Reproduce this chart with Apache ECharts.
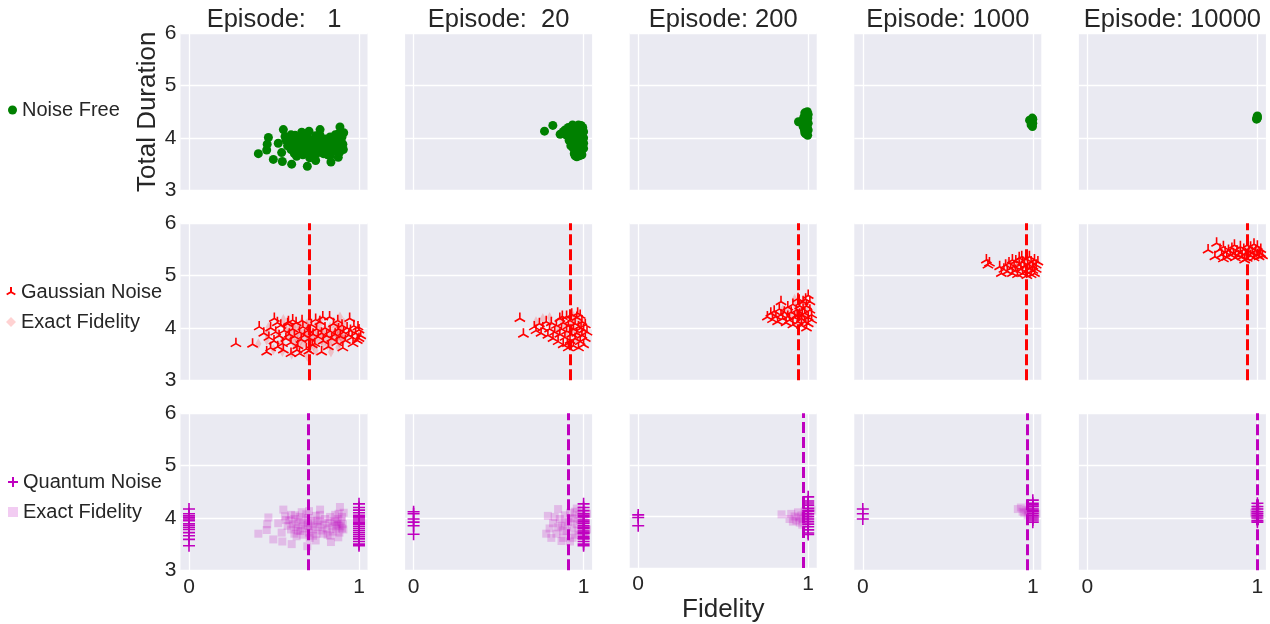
<!DOCTYPE html>
<html><head><meta charset="utf-8">
<script src="https://cdn.jsdelivr.net/npm/echarts@6/dist/echarts.min.js"></script>
<style>html,body{margin:0;padding:0;background:#fff}#c{width:1270px;height:624px}</style>
</head><body><div id="c"></div>
<script>
// ---------------- data ----------------
const episodes = ['Episode:   1', 'Episode:  20', 'Episode: 200', 'Episode: 1000', 'Episode: 10000'];
const yTicks = [3, 4, 5, 6];
const xTicks = [0, 1];

// Row 1: Noise Free [fidelity, total duration]
const noiseFree1 = [[0.408,3.70],[0.457,3.77],[0.46,3.88],[0.467,4.01],[0.496,3.59],[0.549,3.55],[0.555,4.16],[0.604,3.50],[0.696,3.46],[0.706,4.13],[0.771,4.16],[0.835,3.54],[0.878,3.63],[0.888,4.21],[0.908,3.78],[0.745,3.57],[0.525,3.90],[0.545,3.72],[0.565,4.03],[0.624,4.05],[0.663,4.11],[0.633,3.65],
[0.58,3.85],[0.59,3.95],[0.60,3.78],[0.61,3.88],[0.62,3.98],[0.63,3.82],[0.64,3.92],[0.65,4.02],[0.655,3.75],[0.66,3.86],[0.67,3.96],[0.68,3.80],[0.69,3.90],[0.70,4.00],[0.705,3.72],[0.71,3.84],[0.72,3.94],[0.73,3.78],[0.74,3.88],[0.745,4.04],[0.75,3.70],[0.76,3.83],[0.77,3.93],[0.78,3.76],[0.79,3.87],[0.80,3.98],[0.81,3.80],[0.815,3.68],[0.82,3.90],[0.83,4.02],[0.84,3.84],[0.845,3.74],[0.85,3.94],[0.86,4.06],[0.865,3.79],[0.87,3.88],[0.875,3.98],[0.88,4.08],[0.885,3.72],[0.89,3.84],[0.895,3.94],[0.90,4.02],[0.905,3.88],[0.91,4.10],[0.90,3.80],[0.62,3.70],[0.67,3.68],[0.73,3.66],[0.77,4.06],[0.69,4.07],[0.57,3.96],[0.60,4.06],[0.71,3.62],[0.79,3.70],[0.83,3.66],[0.86,3.92],[0.88,3.86],[0.64,3.76],[0.755,3.95],[0.70,3.85]];
const noiseFree2 = [[0.77,4.13],[0.819,4.24],[0.862,4.07],[0.88,4.12],[0.89,4.15],[0.90,4.05],[0.91,4.20],[0.92,4.10],[0.92,3.98],[0.93,4.18],[0.93,3.90],[0.94,4.06],[0.94,3.80],[0.945,3.70],[0.95,4.22],[0.95,4.00],[0.955,3.86],[0.96,4.12],[0.96,3.94],[0.965,3.75],[0.97,4.25],[0.97,4.04],[0.975,3.84],[0.98,4.16],[0.98,3.96],[0.985,3.72],[0.99,4.08],[0.99,3.90],[0.995,4.20],[1.0,4.00],[1.0,3.80],[0.99,3.68],[0.975,3.66],[0.96,3.64],[0.95,3.66],[0.935,4.25],[0.925,3.85],[0.915,3.95],[0.905,4.12],[0.985,4.24],[1.0,4.12],[0.97,3.92],[0.955,4.14],[0.945,3.98],[0.965,4.18],[0.98,3.78],[0.99,3.98],[1.0,3.90],[0.96,4.02]];
const noiseFree3 = [[0.943,4.31],[0.965,4.30],[0.97,4.22],[0.975,4.40],[0.978,4.15],[0.98,4.48],[0.982,4.32],[0.985,4.08],[0.988,4.25],[0.99,4.42],[0.99,4.12],[0.992,4.35],[0.995,4.20],[0.995,4.50],[0.997,4.05],[1.0,4.28],[1.0,4.45],[1.0,4.15],[0.985,4.38],[0.975,4.28],[0.97,4.35],[0.99,4.18],[0.998,4.38],[0.98,4.10],[0.993,4.45]];
const noiseFree4 = [[0.981,4.34],[0.99,4.25],[0.995,4.30],[0.997,4.38],[1.0,4.28],[1.0,4.36],[0.998,4.22],[0.993,4.33]];
const noiseFree5 = [[0.995,4.36],[1.0,4.38],[0.998,4.40],[1.0,4.42],[0.997,4.37]];

// Row 2: Gaussian noise estimate, exact fidelity, mean lines
const gauss1 = [[0.276,3.70],[0.374,3.69],[0.413,4.02],[0.457,3.54],[0.502,4.18],[0.522,3.64],[0.60,3.51],[0.61,4.15],[0.65,3.51],[0.787,4.21],[0.78,3.54],[0.827,4.21],[0.945,4.18],[0.994,4.02],[1.0,3.80],
[0.44,3.90],[0.47,3.82],[0.48,4.00],[0.50,3.75],[0.51,3.92],[0.53,3.85],[0.54,4.05],[0.55,3.70],[0.56,3.95],[0.57,3.80],[0.58,4.08],[0.59,3.88],[0.60,3.72],[0.61,3.98],[0.62,3.84],[0.63,4.10],[0.64,3.66],[0.65,3.92],[0.66,3.78],[0.67,4.02],[0.68,3.86],[0.69,3.60],[0.70,3.95],[0.71,3.80],[0.72,4.06],[0.73,3.88],[0.74,3.70],[0.75,3.98],[0.76,3.83],[0.77,4.12],[0.78,3.90],[0.79,3.75],[0.80,4.00],[0.81,3.85],[0.82,3.64],[0.83,3.94],[0.84,3.80],[0.85,4.08],[0.86,3.88],[0.87,3.72],[0.88,3.98],[0.89,3.84],[0.90,4.05],[0.91,3.92],[0.92,3.76],[0.93,4.00],[0.94,3.86],[0.95,3.95],[0.96,3.82],[0.97,4.04],[0.98,3.90],[0.99,3.76],[1.0,3.96],[1.01,3.85],[0.555,3.58],[0.635,3.58],[0.705,3.56],[0.725,3.68],[0.585,4.12],[0.665,4.14],[0.745,4.16],[0.875,4.14],[0.905,3.62],[0.965,3.70],[0.52,4.10],[0.48,3.62]];
const gauss2 = [[0.625,4.18],[0.646,3.88],[0.71,4.02],[0.72,3.95],[0.74,4.08],[0.75,3.90],[0.76,4.00],[0.78,4.12],[0.79,3.86],[0.80,3.98],[0.81,4.10],[0.82,3.80],[0.83,3.92],[0.84,4.05],[0.85,3.74],[0.86,4.18],[0.86,3.88],[0.87,3.98],[0.88,3.68],[0.88,4.10],[0.89,3.82],[0.90,4.22],[0.90,3.94],[0.91,3.62],[0.91,4.04],[0.92,3.76],[0.92,4.14],[0.93,3.88],[0.93,4.26],[0.94,3.98],[0.94,3.66],[0.95,4.08],[0.95,3.80],[0.96,4.20],[0.96,3.90],[0.97,3.62],[0.97,4.02],[0.98,4.24],[0.98,3.74],[0.99,3.86],[0.99,4.12],[1.0,3.96],[1.0,3.68],[1.01,4.06],[1.01,3.80],[1.02,3.92],[0.965,4.28],[0.905,3.70],[0.875,4.22],[0.985,4.00]];
const gauss3 = [[0.76,4.21],[0.78,4.28],[0.79,4.16],[0.80,4.32],[0.81,4.22],[0.82,4.12],[0.83,4.36],[0.84,4.50],[0.84,4.25],[0.85,4.18],[0.86,4.30],[0.87,4.10],[0.88,4.40],[0.88,4.22],[0.89,4.15],[0.90,4.30],[0.91,4.06],[0.91,4.45],[0.92,4.20],[0.93,4.34],[0.94,4.56],[0.94,4.12],[0.95,4.26],[0.95,4.42],[0.96,4.05],[0.96,4.18],[0.97,4.36],[0.97,4.50],[0.98,4.12],[0.98,4.28],[0.99,4.00],[0.99,4.42],[1.0,4.62],[1.0,4.20],[1.0,4.08],[1.01,4.34],[1.01,4.50],[1.02,4.25],[1.02,4.15],[0.985,4.55],[0.965,4.25],[0.935,4.25]];
const gauss4 = [[0.727,5.30],[0.736,5.20],[0.745,5.24],[0.805,5.17],[0.815,5.04],[0.83,5.12],[0.84,5.20],[0.85,5.08],[0.86,5.24],[0.87,5.14],[0.88,5.30],[0.88,5.04],[0.89,5.18],[0.90,5.10],[0.90,5.28],[0.91,5.02],[0.92,5.20],[0.92,5.34],[0.93,5.12],[0.94,5.26],[0.94,5.04],[0.95,5.18],[0.96,5.32],[0.96,5.08],[0.97,5.22],[0.98,5.14],[0.98,5.36],[0.99,5.02],[0.99,5.26],[1.0,5.18],[1.0,5.10],[1.01,5.30],[1.01,5.04],[1.02,5.20],[1.02,5.12],[1.03,5.26],[0.965,5.00],[0.935,5.36]];
const gauss5 = [[0.71,5.49],[0.76,5.62],[0.75,5.36],[0.78,5.50],[0.79,5.40],[0.80,5.55],[0.81,5.45],[0.82,5.35],[0.83,5.48],[0.84,5.40],[0.85,5.52],[0.86,5.42],[0.87,5.34],[0.88,5.47],[0.89,5.38],[0.90,5.55],[0.90,5.44],[0.91,5.36],[0.92,5.50],[0.93,5.42],[0.94,5.58],[0.94,5.33],[0.95,5.46],[0.96,5.38],[0.96,5.54],[0.97,5.44],[0.98,5.60],[0.98,5.34],[0.99,5.48],[1.0,5.40],[1.0,5.56],[1.01,5.44],[1.01,5.36],[1.02,5.50],[1.02,5.42],[1.03,5.38],[0.80,5.32],[0.865,5.58],[0.925,5.30]];
const exactG2 = [[0.72,4.12],[0.76,4.18],[0.80,4.20],[0.84,3.98],[0.87,4.15],[0.90,3.85],[0.93,4.10],[0.95,3.95],[0.97,4.15],[0.99,3.90],[0.98,4.05],[0.96,3.78],[0.92,3.98],[0.94,4.22],[1.0,4.10],[0.89,4.05],[0.85,3.90]];
const exactG3 = [[0.80,4.25],[0.85,4.35],[0.90,4.20],[0.93,4.40],[0.96,4.30],[0.98,4.45],[0.99,4.20],[1.0,4.35],[0.97,4.15],[0.94,4.05],[0.88,4.30],[0.92,4.55]];
const exactG4 = [[0.85,5.22],[0.90,5.16],[0.95,5.28],[0.98,5.20],[1.0,5.24],[0.97,5.10],[0.92,5.28],[1.01,5.16]];
const exactG5 = [[0.85,5.45],[0.90,5.40],[0.95,5.50],[0.98,5.45],[1.0,5.48],[0.93,5.38],[0.97,5.40]];
const gaussMean = [0.713, 0.918, 0.943, 0.961, 0.945];

// Row 3: Quantum noise (measured 0/1), exact fidelity, mean lines
const quantum1 = [[0,4.17],[0,4.08],[0,4.01],[0,3.95],[0,3.89],[0,3.82],[0,3.72],[0,3.66],[0,3.59],[0,3.47],[0,4.04],[0,3.86],[0,3.78],[0,3.98],
[1,4.27],[1,4.20],[1,4.15],[1,4.10],[1,4.05],[1,4.00],[1,3.96],[1,3.92],[1,3.88],[1,3.84],[1,3.80],[1,3.76],[1,3.72],[1,3.68],[1,3.64],[1,3.60],[1,3.55],[1,3.50],[1,3.47],[1,4.02],[1,3.90]];
const quantum2 = [[0,4.08],[0,3.98],[0,3.92],[0,3.85],[0,3.69],[0,4.12],
[1,4.27],[1,4.20],[1,4.14],[1,4.08],[1,4.02],[1,3.96],[1,3.90],[1,3.85],[1,3.80],[1,3.75],[1,3.70],[1,3.65],[1,3.60],[1,3.55],[1,3.50],[1,3.47],[1,4.05],[1,3.93],[1,3.82],[1,3.72],[1,3.62]];
const quantum3 = [[0,4.03],[0,3.98],[0,3.82],
[1,4.38],[1,4.30],[1,4.22],[1,4.16],[1,4.10],[1,4.05],[1,4.00],[1,3.95],[1,3.90],[1,3.85],[1,3.80],[1,3.74],[1,3.68],[1,3.65],[1,4.26],[1,4.12]];
const quantum4 = [[0,4.17],[0,4.08],[0,3.98],
[1,4.34],[1,4.28],[1,4.22],[1,4.17],[1,4.12],[1,4.08],[1,4.04],[1,4.00],[1,3.96],[1,3.92],[1,4.25],[1,4.14]];
const quantum5 = [[1,4.28],[1,4.22],[1,4.17],[1,4.12],[1,4.08],[1,4.04],[1,4.00],[1,3.95],[1,3.92]];
const exactQ2 = [[0.79,4.04],[0.85,4.17],[0.78,3.70],[0.80,3.80],[0.82,3.90],[0.84,3.70],[0.86,3.98],[0.87,3.85],[0.88,3.62],[0.89,4.05],[0.90,3.75],[0.91,3.92],[0.92,3.55],[0.92,4.10],[0.93,3.82],[0.94,3.98],[0.95,3.68],[0.95,4.12],[0.96,3.88],[0.97,3.76],[0.97,4.05],[0.98,3.94],[0.99,3.82],[0.99,4.15],[1.0,3.70],[1.0,4.00],[1.01,3.88],[1.02,4.08],[1.02,3.78],[0.83,4.02],[0.87,3.56],[0.935,3.62],[0.96,4.18],[0.81,3.62],[0.85,3.82],[0.89,3.90],[0.93,4.00],[0.88,3.76]];
const exactQ3 = [[0.843,4.04],[0.89,3.95],[0.90,4.05],[0.91,3.90],[0.92,4.00],[0.93,3.92],[0.94,4.08],[0.95,3.88],[0.96,4.02],[0.97,3.95],[0.98,4.10],[0.99,3.86],[1.0,4.04],[1.01,3.96],[1.02,4.12],[0.965,3.84],[0.985,4.0],[0.945,3.98]];
const exactQ4 = [[0.912,4.17],[0.93,4.20],[0.95,4.10],[0.96,4.16],[0.97,4.05],[0.98,4.22],[0.99,4.12],[1.0,4.02],[1.01,4.18],[1.02,4.08],[0.975,4.14],[0.94,4.12]];
const exactQ5 = [[0.98,4.10],[0.99,4.15],[1.0,4.05],[1.01,4.12],[0.995,4.20],[1.005,4.00],[0.985,4.08]];
const quantumMean = [0.696, 0.913, 0.969, 0.975, 0.998];

// ---------------- build ----------------
const FONT = '"Liberation Sans", Arial, sans-serif';
const TXT = '#262626';
const GREEN = '#008000', RED = '#ff0000', MAG = '#bf00bf';
const TRI = 'path://M0,0L0,-10M0,0L-8.66,5M0,0L8.66,5M-10,-10M10,10';
const PLUS = 'path://M-10,0L10,0M0,-10L0,10';

const rowData = [
  [noiseFree1, noiseFree2, noiseFree3, noiseFree4, noiseFree5],
  [gauss1, gauss2, gauss3, gauss4, gauss5],
  [quantum1, quantum2, quantum3, quantum4, quantum5]
];
const exactRow2 = [noiseFree1, exactG2, exactG3, exactG4, exactG5];
const exactRow3 = [noiseFree1, exactQ2, exactQ3, exactQ4, exactQ5];

const colLeft = c => 180.5 + 224.6 * c;
const rowTop = [33.3, 223.3, 413.3];
const GW = 187, GH = 157;

const grids = [], xAxes = [], yAxes = [], series = [];
const gridLines = {
  silent: true, z: 1, symbol: 'none', label: { show: false },
  lineStyle: { color: '#ffffff', width: 1.3, type: 'solid' },
  emphasis: { disabled: true },
  data: xTicks.map(v => ({ xAxis: v }))
};
function meanLine(v, color) {
  return {
    silent: true, symbol: 'none', label: { show: false },
    lineStyle: { color: color, width: 3, type: [11, 4] },
    emphasis: { disabled: true },
    data: [{ xAxis: v }]
  };
}

for (let r = 0; r < 3; r++) {
  for (let c = 0; c < 5; c++) {
    const i = r * 5 + c;
    grids.push({ left: colLeft(c), top: rowTop[r], width: GW, height: GH, show: true,
      backgroundColor: '#EAEAF2', borderWidth: 0 });
    xAxes.push({
      type: 'value', gridIndex: i, min: -0.05, max: 1.05,
      axisLine: { show: false }, axisTick: { show: false }, splitLine: { show: false },
      axisLabel: { show: r === 2, customValues: xTicks, fontSize: 21, color: TXT, fontFamily: FONT, margin: 6 },
      name: (r === 2 && c === 2) ? 'Fidelity' : '', nameLocation: 'middle', nameGap: 29,
      nameTextStyle: { fontSize: 26, color: TXT, fontFamily: FONT }
    });
    yAxes.push({
      type: 'value', gridIndex: i, min: yTicks[0], max: yTicks[yTicks.length - 1], interval: 1,
      axisLine: { show: false }, axisTick: { show: false },
      splitLine: { show: true, lineStyle: { color: '#ffffff', width: 1.3 } },
      axisLabel: { show: c === 0, fontSize: 21, color: TXT, fontFamily: FONT, margin: 4 },
      name: (r === 0 && c === 0) ? 'Total Duration' : '', nameLocation: 'middle', nameGap: 20,
      nameTextStyle: { fontSize: 26, color: TXT, fontFamily: FONT }
    });
    if (r === 0) {
      series.push({ type: 'scatter', name: 'Noise Free', xAxisIndex: i, yAxisIndex: i, z: 2,
        symbol: 'circle', symbolSize: 9, itemStyle: { color: GREEN, opacity: 1 },
        data: rowData[0][c], markLine: gridLines });
    } else if (r === 1) {
      series.push({ type: 'scatter', name: 'Gaussian Noise', xAxisIndex: i, yAxisIndex: i, z: 2,
        symbol: TRI, symbolSize: 12,
        itemStyle: { color: 'rgba(0,0,0,0)', borderColor: RED, borderWidth: 1.6, opacity: 1 },
        data: rowData[1][c], markLine: gridLines });
      series.push({ type: 'scatter', name: 'Exact Fidelity', xAxisIndex: i, yAxisIndex: i, z: 3,
        symbol: 'diamond', symbolSize: [6, 11],
        itemStyle: { color: 'rgba(255,0,0,0.22)' },
        data: exactRow2[c], markLine: meanLine(gaussMean[c], RED) });
    } else {
      series.push({ type: 'scatter', name: 'Exact Fidelity ', xAxisIndex: i, yAxisIndex: i, z: 2,
        symbol: 'rect', symbolSize: 8,
        itemStyle: { color: 'rgba(191,0,191,0.25)' },
        data: exactRow3[c], markLine: gridLines });
      series.push({ type: 'scatter', name: 'Quantum Noise', xAxisIndex: i, yAxisIndex: i, z: 3,
        symbol: PLUS, symbolSize: 12,
        itemStyle: { color: 'rgba(0,0,0,0)', borderColor: MAG, borderWidth: 1.6, opacity: 1 },
        data: rowData[2][c], markLine: meanLine(quantumMean[c], MAG) });
    }
  }
}

const titles = episodes.map((t, c) => ({
  text: t, left: colLeft(c) + GW / 2, top: 7, textAlign: 'center', padding: 0,
  textStyle: { fontSize: 25.5, fontWeight: 'normal', color: TXT, fontFamily: FONT }
}));

const legendBase = {
  orient: 'vertical', itemWidth: 10, itemHeight: 10, itemGap: 10, padding: 0,
  selectedMode: false, textStyle: { fontSize: 20, color: TXT, fontFamily: FONT }
};
const legends = [
  Object.assign({}, legendBase, { data: ['Noise Free'], left: 8, top: 100, itemWidth: 9, itemHeight: 9 }),
  Object.assign({}, legendBase, { data: ['Gaussian Noise', 'Exact Fidelity'], left: 5, top: 282 }),
  Object.assign({}, legendBase, { data: ['Quantum Noise', 'Exact Fidelity '], left: 7, top: 472 })
];

const chart = echarts.init(document.getElementById('c'), null, { renderer: 'canvas' });
chart.setOption({
  animation: false,
  backgroundColor: '#ffffff',
  textStyle: { fontFamily: FONT },
  title: titles,
  legend: legends,
  grid: grids,
  xAxis: xAxes,
  yAxis: yAxes,
  series: series
});
</script></body></html>
